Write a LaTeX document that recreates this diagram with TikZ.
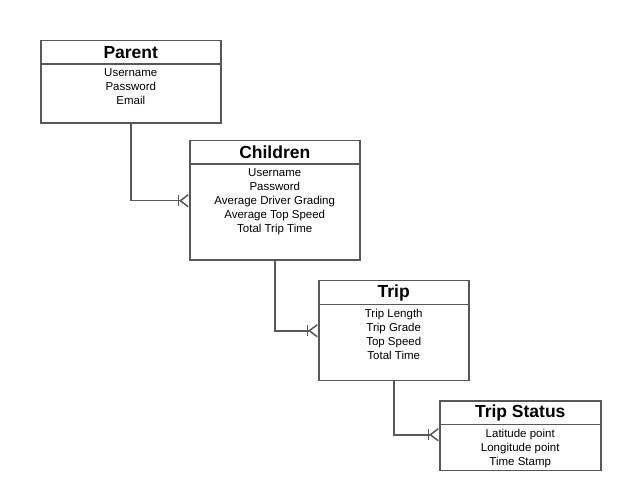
\documentclass[tikz,border=0pt]{standalone}
\usepackage{fontspec}
\setmainfont{Liberation Sans}
\usetikzlibrary{arrows.meta}

\definecolor{linegray}{RGB}{88,88,88}

\begin{document}
\begin{tikzpicture}[x=1pt, y=-1pt,
	head/.style = {draw=linegray, line width=1.5pt, inner sep=0pt, anchor=north west,
	minimum height=23.5pt, font=\bfseries\fontsize{17.5}{20}\selectfont},
	attr/.style = {draw=linegray, line width=1.5pt, inner sep=0pt, anchor=north west,
	font=\fontsize{11.5}{14}\selectfont},
	link/.style = {draw=linegray, line width=1.5pt,
	-{Bar[width=11pt, line width=1.5pt] Straight Barb[reversed, length=8pt, width=12pt, line width=1.5pt]}}]

	\useasboundingbox (0, 0) rectangle (622, 492);

	\node (parenthead) [head, minimum width=180pt] at (40, 40) {Parent};
	\node (parent) [attr] at (40, 63.5)
		{\parbox[t][59pt][t]{180pt}{\centering\vspace*{4.5pt}Username\\Password\\Email}};

	\node (childrenhead) [head, minimum width=170pt] at (189, 140) {Children};
	\node (children) [attr] at (189, 163.5)
		{\parbox[t][96pt][t]{170pt}{\centering\vspace*{4.5pt}Username\\Password\\Average Driver Grading\\Average Top Speed\\Total Trip Time}};

	\node (triphead) [head, minimum width=150pt] at (318, 280) {Trip};
	\node (trip) [attr] at (318, 303.5)
		{\parbox[t][76pt][t]{150pt}{\centering\vspace*{4.5pt}Trip Length\\Trip Grade\\Top Speed\\ Total Time}};

	\node (statushead) [head, minimum width=161pt] at (439, 400) {Trip Status};
	\node (status) [attr] at (439, 423.5)
		{\parbox[t][46pt][t]{161pt}{\centering\vspace*{4.5pt}Latitude point\\Longitude point\\Time Stamp}};

	% Relations
	\draw[link] (parent.south) |- ([yshift=11.5pt]children.west);
	\draw[link] (children.south) |- ([yshift=11.5pt]trip.west);
	\draw[link] (trip.south) |- ([yshift=12.5pt]status.west);
\end{tikzpicture}
\end{document}
